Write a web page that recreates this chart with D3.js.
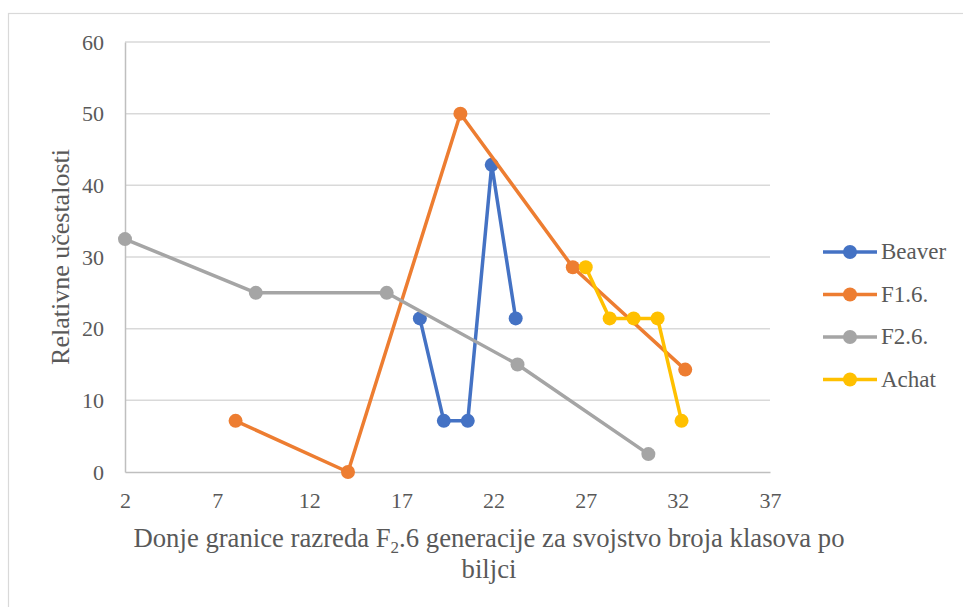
<!DOCTYPE html>
<html>
<head>
<meta charset="utf-8">
<script src="https://cdn.jsdelivr.net/npm/d3@7"></script>
</head>
<body style="margin:0">
<div id="chart"></div>
<script>
const w = 963,
      h = 607;

const margin = {top: 42, right: 193, bottom: 135, left: 125};
const font = "'Liberation Serif'";
const textColor = "#595959";

// data
const seriesNames = ["Beaver", "F1.6.", "F2.6.", "Achat"];
const beaverX = [18, 19.3, 20.6, 21.9, 23.2];
const beaverY = [21.43, 7.14, 7.14, 42.86, 21.43];
const f16X = [8, 14.1, 20.2, 26.3, 32.4];
const f16Y = [7.14, 0, 50, 28.57, 14.29];
const f26X = [2, 9.1, 16.2, 23.3, 30.4];
const f26Y = [32.5, 25, 25, 15, 2.5];
const achatX = [27, 28.3, 29.6, 30.9, 32.2];
const achatY = [28.57, 21.43, 21.43, 21.43, 7.14];
const xTicks = [2, 7, 12, 17, 22, 27, 32, 37];
const yTicks = [0, 10, 20, 30, 40, 50, 60];
const colors = ["#4472C4", "#ED7D31", "#A5A5A5", "#FFC000"];

const series = [
  {name: seriesNames[0], xs: beaverX, ys: beaverY},
  {name: seriesNames[1], xs: f16X, ys: f16Y},
  {name: seriesNames[2], xs: f26X, ys: f26Y},
  {name: seriesNames[3], xs: achatX, ys: achatY}
];

const iw = w - margin.left - margin.right,
      ih = h - margin.top - margin.bottom;

const svg = d3.select("#chart")
  .append("svg")
  .attr("width", w)
  .attr("height", h);

// outer chart border
svg.append("rect")
  .attr("x", 8.5)
  .attr("y", 13.5)
  .attr("width", w)
  .attr("height", h)
  .style("fill", "none")
  .style("stroke", "#d9d9d9")
  .style("stroke-width", 1.2);

const g = svg.append("g")
  .attr("transform", "translate(" + margin.left + "," + margin.top + ")");

const x = d3.scaleLinear().domain([2, 37]).range([0, iw]);
const y = d3.scaleLinear().domain([0, 60]).range([ih, 0]);

// gridlines
g.append("g")
  .selectAll("line")
  .data(yTicks.filter(d => d > 0))
  .enter()
  .append("line")
  .attr("x1", 0)
  .attr("x2", iw)
  .attr("y1", d => y(d))
  .attr("y2", d => y(d))
  .style("stroke", "#d9d9d9")
  .style("stroke-width", 1.5);

const xAxis = g.append("g")
  .attr("transform", "translate(0," + ih + ")")
  .call(d3.axisBottom(x).tickValues(xTicks).tickSize(0).tickPadding(20.5));

const yAxis = g.append("g")
  .call(d3.axisLeft(y).tickValues(yTicks).tickSize(0).tickPadding(21));

[xAxis, yAxis].forEach(a => {
  a.select(".domain").style("stroke", "#bfbfbf").style("stroke-width", 1.5);
  a.selectAll("text")
    .style("font-family", font)
    .style("font-size", "22px")
    .style("fill", textColor);
});

// axis titles
svg.append("text")
  .attr("transform", "translate(69,257) rotate(-90)")
  .attr("text-anchor", "middle")
  .style("font-family", font)
  .style("font-size", "26px")
  .style("fill", textColor)
  .text("Relativne učestalosti");

const xt = svg.append("text")
  .attr("x", 489)
  .attr("y", 547)
  .attr("text-anchor", "middle")
  .style("font-family", font)
  .style("font-size", "26.7px")
  .style("fill", textColor);
xt.append("tspan").text("Donje granice razreda F");
xt.append("tspan").attr("dy", 6).style("font-size", "17px").text("2");
xt.append("tspan").attr("dy", -6).text(".6 generacije za svojstvo broja klasova po");

svg.append("text")
  .attr("x", 489)
  .attr("y", 578)
  .attr("text-anchor", "middle")
  .style("font-family", font)
  .style("font-size", "26.7px")
  .style("fill", textColor)
  .text("biljci");

// lines and markers
const line = d3.line()
  .x(d => x(d[0]))
  .y(d => y(d[1]));

series.forEach((s, i) => {
  const pts = s.xs.map((v, j) => [v, s.ys[j]]);
  g.append("path")
    .datum(pts)
    .attr("d", line)
    .style("fill", "none")
    .style("stroke", colors[i])
    .style("stroke-width", 3.5)
    .style("stroke-linejoin", "round");
  g.selectAll(".pt" + i)
    .data(pts)
    .enter()
    .append("circle")
    .attr("class", "pt" + i)
    .attr("cx", d => x(d[0]))
    .attr("cy", d => y(d[1]))
    .attr("r", 7)
    .style("fill", colors[i]);
});

// legend
const legend = svg.append("g")
  .attr("transform", "translate(823,252)");

seriesNames.forEach((name, i) => {
  const row = legend.append("g")
    .attr("transform", "translate(0," + (i * 42.5) + ")");
  row.append("line")
    .attr("x1", 0)
    .attr("x2", 54)
    .style("stroke", colors[i])
    .style("stroke-width", 3.5);
  row.append("circle")
    .attr("cx", 27)
    .attr("r", 7)
    .style("fill", colors[i]);
  row.append("text")
    .attr("x", 58)
    .attr("y", 7)
    .style("font-family", font)
    .style("font-size", "23px")
    .style("fill", textColor)
    .text(name);
});
</script>
</body>
</html>
